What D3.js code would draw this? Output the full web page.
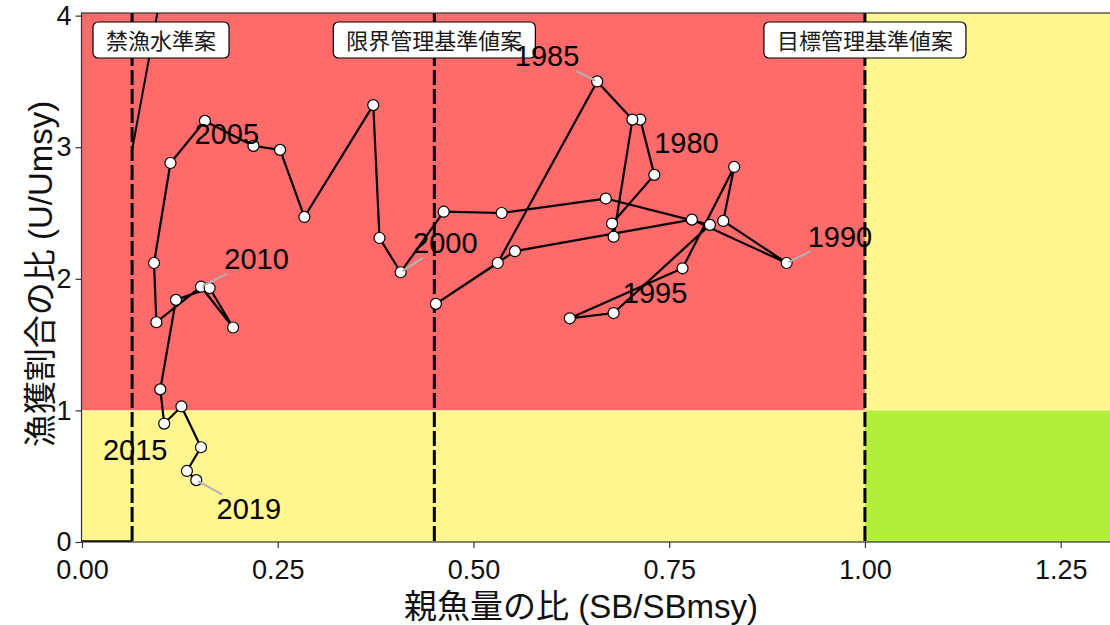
<!DOCTYPE html>
<html>
<head>
<meta charset="utf-8">
<script src="https://cdn.jsdelivr.net/npm/d3@7"></script>
<style>
  body { margin: 0; background: #fff; }
  text { font-family: "Liberation Sans", Arial, "Noto Sans CJK JP", sans-serif; }
  .cjk { font-family: "Liberation Sans", "Noto Sans CJK JP", sans-serif; }
</style>
</head>
<body>
<svg id="kobe" width="1110" height="625"></svg>
<script>
// ---- data ----
const years = d3.range(1980, 2020);
const sbRatio = [0.713, 0.731, 0.677, 0.679, 0.703, 0.658, 0.531, 0.452, 0.553, 0.779,
                 0.900, 0.819, 0.833, 0.767, 0.623, 0.679, 0.802, 0.669, 0.536, 0.462,
                 0.407, 0.380, 0.372, 0.284, 0.253, 0.219, 0.157, 0.113, 0.092, 0.095,
                 0.152, 0.193, 0.163, 0.120, 0.100, 0.105, 0.127, 0.152, 0.134, 0.146];
const uRatio  = [3.21, 2.79, 2.42, 2.32, 3.21, 3.50, 2.12, 1.81, 2.21, 2.45,
                 2.12, 2.44, 2.85, 2.08, 1.70, 1.74, 2.41, 2.61, 2.50, 2.51,
                 2.05, 2.31, 3.32, 2.47, 2.98, 3.01, 3.20, 2.88, 2.12, 1.67,
                 1.94, 1.63, 1.93, 1.84, 1.16, 0.90, 1.03, 0.72, 0.54, 0.47];

// reference points (SB/SBmsy)
const refNames  = ["禁漁水準案", "限界管理基準値案", "目標管理基準値案"];
const refValues = [0.064, 0.45, 1.0];

// extra black line near the ban level
const banLineX = [0, 0.064];
const banLineY = [0, 0];
const steepLineX = [0.064, 0.105];
const steepLineY = [2.98, 4.30];

// year labels and where they were placed (data units)
const labelYears = [1980, 1985, 1990, 1995, 2000, 2005, 2010, 2015, 2019];
const labelX     = [0.772, 0.594, 0.968, 0.732, 0.464, 0.185, 0.223, 0.068, 0.213];
const labelY     = [3.03, 3.69, 2.32, 1.89, 2.27, 3.10, 2.15, 0.70, 0.25];
const segmentYears = [1985, 1990, 2000, 2010, 2019];

const xTicks = [0, 0.25, 0.5, 0.75, 1.0, 1.25];
const yTicks = [0, 1, 2, 3, 4];

// ---- layout ----
const svg = d3.select("#kobe");
const pLeft = 82, pRight = 1110, pTop = 13, pBottom = 542;

const x = d3.scaleLinear().domain([0, 1.313]).range([pLeft, pRight]);
const y = d3.scaleLinear().domain([0, 4.02]).range([pBottom, pTop]);

svg.append("clipPath").attr("id", "panel")
  .append("rect").attr("x", pLeft).attr("y", pTop)
  .attr("width", pRight - pLeft).attr("height", pBottom - pTop);

const plot = svg.append("g").attr("clip-path", "url(#panel)");

// zones
const xMax = x.domain()[1], yMax = y.domain()[1];
const zones = [
  { x0: 0, x1: 1, y0: 1, y1: yMax, fill: "#FF6A6A" },
  { x0: 0, x1: 1, y0: 0, y1: 1, fill: "#FFF68F" },
  { x0: 1, x1: xMax, y0: 1, y1: yMax, fill: "#FFF68F" },
  { x0: 1, x1: xMax, y0: 0, y1: 1, fill: "#B3EE3A" }
];
plot.selectAll("rect.zone").data(zones).enter().append("rect")
  .attr("class", "zone")
  .attr("x", d => x(d.x0)).attr("y", d => y(d.y1))
  .attr("width", d => x(d.x1) - x(d.x0))
  .attr("height", d => y(d.y0) - y(d.y1))
  .attr("fill", d => d.fill);

// reference dashed lines
plot.selectAll("line.ref").data(refValues).enter().append("line")
  .attr("class", "ref")
  .attr("x1", d => x(d)).attr("x2", d => x(d))
  .attr("y1", pTop).attr("y2", pBottom)
  .attr("stroke", "#000").attr("stroke-width", 3)
  .attr("stroke-dasharray", "15,4");

// black lines near the ban level
const lineGen = d3.line().x(d => x(d[0])).y(d => y(d[1]));
plot.append("path")
  .attr("d", lineGen(d3.zip(banLineX, banLineY)))
  .attr("fill", "none").attr("stroke", "#000").attr("stroke-width", 3.5);
plot.append("path")
  .attr("d", lineGen(d3.zip(steepLineX, steepLineY)))
  .attr("fill", "none").attr("stroke", "#000").attr("stroke-width", 2);

// trajectory
const traj = d3.zip(sbRatio, uRatio);
plot.append("path")
  .attr("d", lineGen(traj))
  .attr("fill", "none").attr("stroke", "#000").attr("stroke-width", 2.2)
  .attr("stroke-linejoin", "round");

plot.selectAll("circle").data(traj).enter().append("circle")
  .attr("cx", d => x(d[0])).attr("cy", d => y(d[1]))
  .attr("r", 5.5).attr("fill", "#fff")
  .attr("stroke", "#000").attr("stroke-width", 1.2);

// labelled boxes for reference points
const boxH = 36, boxPad = 13, boxFont = 22;
refNames.forEach((name, i) => {
  const g = svg.append("g");
  const t = g.append("text").attr("class", "cjk")
    .attr("font-size", boxFont).attr("fill", "#1a1a1a")
    .attr("text-anchor", "middle").attr("dominant-baseline", "central")
    .text(name);
  const w = t.node().getComputedTextLength() + 2 * boxPad;
  const cx = Math.max(x(refValues[i]), pLeft + 11 + w / 2);
  const cy = pTop + 9 + boxH / 2;
  t.attr("x", cx).attr("y", cy + 1);
  g.insert("rect", "text")
    .attr("x", cx - w / 2).attr("y", cy - boxH / 2)
    .attr("width", w).attr("height", boxH)
    .attr("rx", 5).attr("fill", "#fff")
    .attr("stroke", "#000").attr("stroke-width", 1.2);
});

// year labels with repel-style segments
const yearFont = 29;
const segLayer = svg.append("g");
const labLayer = svg.append("g");
labelYears.forEach((yr, i) => {
  const k = years.indexOf(yr);
  const px = x(sbRatio[k]), py = y(uRatio[k]);
  const lx = x(labelX[i]), ly = y(labelY[i]);
  const t = labLayer.append("text")
    .attr("x", lx).attr("y", ly)
    .attr("font-size", yearFont).attr("fill", "#000")
    .attr("text-anchor", "middle").attr("dominant-baseline", "central")
    .text(yr);
  if (segmentYears.includes(yr)) {
    const hw = t.node().getComputedTextLength() / 2 + 3, hh = yearFont * 0.4 + 3;
    const dx = px - lx, dy = py - ly;
    const s = Math.min(hw / Math.abs(dx), hh / Math.abs(dy));
    const len = Math.hypot(dx, dy);
    const e = 1 - 2 / len;
    segLayer.append("line")
      .attr("x1", lx + dx * s).attr("y1", ly + dy * s)
      .attr("x2", lx + dx * e).attr("y2", ly + dy * e)
      .attr("stroke", "#b3b3b3").attr("stroke-width", 2);
  }
});

// panel border
svg.append("rect")
  .attr("x", pLeft - 0.5).attr("y", pTop)
  .attr("width", pRight - pLeft + 2).attr("height", pBottom - pTop)
  .attr("fill", "none").attr("stroke", "#333").attr("stroke-width", 1.2);

// axes
const xAxis = svg.append("g").attr("transform", `translate(0,${pBottom})`)
  .call(d3.axisBottom(x).tickValues(xTicks).tickFormat(d3.format(".2f"))
        .tickSize(6).tickPadding(12));
const yAxis = svg.append("g").attr("transform", `translate(${pLeft - 0.5},0)`)
  .call(d3.axisLeft(y).tickValues(yTicks).tickFormat(d3.format("d"))
        .tickSize(6).tickPadding(4));
[xAxis, yAxis].forEach(a => {
  a.select(".domain").remove();
  a.selectAll(".tick line").attr("stroke", "#333").attr("stroke-width", 1.2);
  a.selectAll(".tick text").attr("font-size", 27).attr("fill", "#111")
    .attr("font-family", "Liberation Sans, Arial, sans-serif");
});

// axis titles
svg.append("text").attr("class", "cjk")
  .attr("x", 581).attr("y", 606)
  .attr("text-anchor", "middle").attr("dominant-baseline", "central")
  .attr("font-size", 33).attr("fill", "#111")
  .text("親魚量の比 (SB/SBmsy)");
svg.append("text").attr("class", "cjk")
  .attr("transform", "translate(40,274) rotate(-90)")
  .attr("text-anchor", "middle").attr("dominant-baseline", "central")
  .attr("font-size", 33).attr("fill", "#111")
  .text("漁獲割合の比 (U/Umsy)");
</script>
</body>
</html>
